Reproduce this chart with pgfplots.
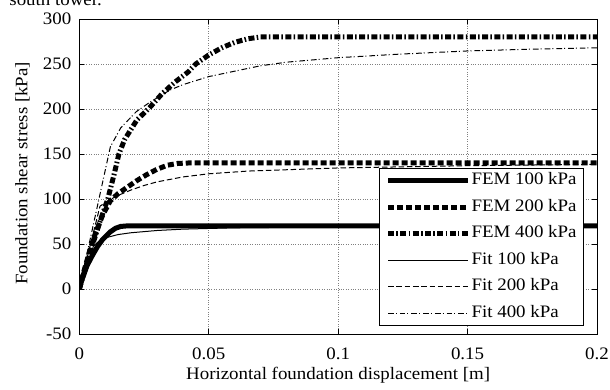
\documentclass[border=0pt]{standalone}
\usepackage{fontspec}
\setmainfont{Liberation Serif}[FakeStretch=1.08]
\usepackage{pgfplots}
\pgfplotsset{compat=1.18}
\begin{document}
\fontsize{17.5}{20}\selectfont
\begin{tikzpicture}
\begin{axis}[
  name=ax,
  scale only axis, width=517.7pt, height=315pt,
  xmin=0, xmax=0.2, ymin=-50, ymax=300,
  xtick={0,0.05,0.1,0.15,0.2}, xticklabels={0,0.05,0.1,0.15,0.2},
  ytick={-50,0,50,100,150,200,250,300}, yticklabels={-50,0,50,100,150,200,250,300},
  /pgf/number format/assume math mode=true,
  tick pos=both, tick align=inside, major tick length=5pt,
  every tick/.style={black, line width=0.7pt},
  axis line style={black, line width=0.9pt},
  grid=major, grid style={gray, line width=0.5pt, dash pattern=on 0.8pt off 1.6pt},
  tick label style={font=\fontsize{17.5}{20}\selectfont},
  xticklabel style={yshift=-8pt},
  yticklabel style={xshift=-2pt},
  xlabel={Horizontal foundation displacement [m]},
  ylabel={Foundation shear stress [kPa]},
  label style={font=\fontsize{17.5}{20}\selectfont},
  xlabel style={at={(axis description cs:0.5,-0.1429)}, anchor=base},
  ylabel style={at={(axis description cs:-0.1004,0.51)}, anchor=base},
  legend cell align=left,
  legend image code/.code={\draw[#1] (0pt,0pt) -- (80pt,0pt);},
  legend style={at={(rel axis cs:0.975,0.527)}, anchor=north east,
    draw=black, line width=0.9pt, fill=white,
    font=\fontsize{17.5}{20}\selectfont,
    inner xsep=6pt, inner ysep=3pt, row sep=8pt,
    nodes={inner sep=1pt, text height=12.5pt, text depth=4pt}},
]
\addplot[black, line width=5pt, line cap=butt] coordinates {
 (0,0) (0.001,10) (0.003,26) (0.005,37) (0.007,47) (0.009,55) (0.012,63.5)
 (0.014,67.5) (0.016,69.5) (0.018,70) (0.2,70)};
\addlegendentry{FEM 100 kPa}
\addplot[black, line width=5pt, line cap=butt, dash pattern=on 6pt off 3pt] coordinates {
 (0,0) (0.002,22) (0.004,42) (0.006,60) (0.009,82) (0.012,98) (0.015,106)
 (0.018,112) (0.022,120) (0.026,127) (0.030,133) (0.034,137.5) (0.038,139.5)
 (0.042,140) (0.2,140)};
\addlegendentry{FEM 200 kPa}
\addplot[black, line width=5pt, line cap=butt, dash pattern=on 6pt off 2.3pt on 1.5pt off 2.5pt] coordinates {
 (0,0) (0.002,20) (0.005,48) (0.008,75) (0.011,100) (0.0135,128) (0.0153,150)
 (0.0175,166) (0.0223,188) (0.027,201) (0.032,217) (0.037,230) (0.042,241)
 (0.045,250) (0.05,260) (0.055,268) (0.06,274) (0.065,278) (0.07,280) (0.2,280)};
\addlegendentry{FEM 400 kPa}
\addplot[black, line width=1pt] coordinates {
 (0,0) (0.0055,48) (0.008,54) (0.011,57.5) (0.015,60.5) (0.02,62.5) (0.03,65)
 (0.04,66.5) (0.06,68) (0.1,69) (0.15,69.5) (0.2,70)};
\addlegendentry{Fit 100 kPa}
\addplot[black, line width=1pt, dash pattern=on 5.5pt off 2.8pt] coordinates {
 (0,0) (0.008,92) (0.011,98) (0.015,104) (0.02,110) (0.025,115) (0.03,119)
 (0.04,124.5) (0.05,128) (0.065,131) (0.08,132.5) (0.1,134.5) (0.15,137) (0.2,138.5)};
\addlegendentry{Fit 200 kPa}
\addplot[black, line width=1pt, dash pattern=on 5.7pt off 2pt on 1pt off 3pt] coordinates {
 (0,0) (0.012,158) (0.016,179) (0.022,197) (0.027,207) (0.031,214) (0.035,221)
 (0.04,227) (0.05,236) (0.06,242) (0.07,248) (0.08,252) (0.1,257) (0.124,261)
 (0.15,264.5) (0.175,266.5) (0.2,268)};
\addlegendentry{Fit 400 kPa}
\end{axis}
\node[anchor=base east, inner sep=0pt] at ([shift={(22.7pt,13.5pt)}]ax.north west) {south tower.};
\pgfresetboundingbox
\useasboundingbox ([shift={(-79.3pt,-56pt)}]ax.south west) rectangle ([shift={(13pt,19pt)}]ax.north east);
\end{tikzpicture}
\end{document}
